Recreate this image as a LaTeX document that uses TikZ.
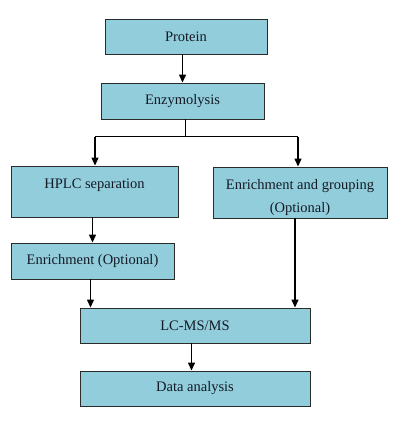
\documentclass[tikz,border=0pt]{standalone}
\usepackage{fontspec}
\setmainfont{Liberation Serif}
\usetikzlibrary{arrows.meta}
\definecolor{boxfill}{HTML}{92CDDC}
\definecolor{boxline}{HTML}{2B2B2B}
\definecolor{txt}{HTML}{141A24}
\tikzset{
  box/.style={draw=boxline, line width=0.9pt, fill=boxfill, inner sep=0pt,
    text=txt, align=center, font=\fontsize{14.5}{22}\selectfont},
  tallbox/.style={box, minimum height=51pt},
  flow/.style={line width=1.3pt, -{Triangle[length=8pt,width=7pt]}}
}
\begin{document}
\begin{tikzpicture}[x=1pt, y=-1pt]
  % page frame, same size as the reference
  \useasboundingbox (0,0) rectangle (412,427);

  % boxes, top to bottom
  \node[box, minimum width=162pt, minimum height=35pt] (protein) at (186,36.5) {Protein};
  \node[box, minimum width=163pt, minimum height=36pt] (enzy) at (182.5,101) {Enzymolysis};
  \node[tallbox, minimum width=167pt, text height=10pt, text depth=15pt] (hplc) at (94.5,191.5) {HPLC separation};
  \node[tallbox, minimum width=174pt, text height=45pt, text depth=6pt] (group) at (300,192.5) {Enrichment and grouping\\(Optional)};
  \node[box, minimum width=163pt, minimum height=36pt] (enrich) at (92.5,261) {Enrichment (Optional)};
  \node[box, minimum width=230pt, minimum height=35pt] (lcms) at (195,325.5) {LC-MS/MS};
  \node[box, minimum width=230pt, minimum height=35pt] (data) at (195,388.5) {Data analysis};

  % branch below Enzymolysis
  \coordinate (split) at (185.5,137);
  \coordinate (brL) at (95,137);
  \coordinate (brR) at (298,137);

  % connectors
  \draw[flow] (protein.south -| enzy.north) -- (enzy.north);
  \draw[line width=0.8pt] ([xshift=3pt]enzy.south) -- (split);
  \draw[line width=1pt] (brL) -- (brR);
  \draw[flow] (brL) -- (brL |- hplc.north);
  \draw[flow] (brR) -- (brR |- group.north);
  \draw[flow] (hplc.south -| enrich.north) -- (enrich.north);
  \draw[flow] ([xshift=-2pt]enrich.south) -- ([xshift=-2pt]enrich.south |- lcms.north);
  \draw[flow] ([xshift=-5pt]group.south) -- ([xshift=-5pt]group.south |- lcms.north);
  \draw[flow] ([xshift=-3.5pt]lcms.south) -- ([xshift=-3.5pt]lcms.south |- data.north);
\end{tikzpicture}
\end{document}
